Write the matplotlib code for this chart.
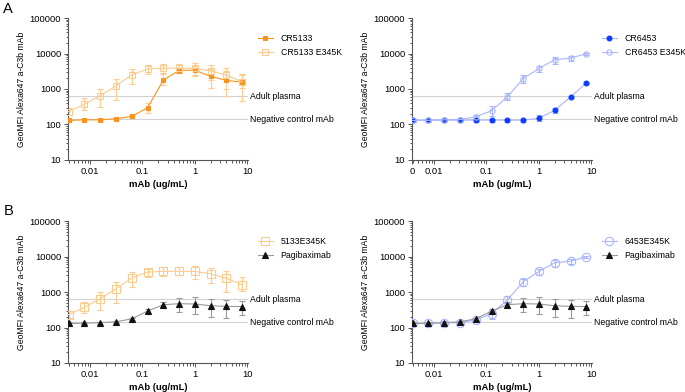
import matplotlib
matplotlib.use('Agg')
import matplotlib.pyplot as plt
import numpy as np
from matplotlib.ticker import LogLocator, NullFormatter, FixedLocator, FixedFormatter

plt.rcParams['font.family'] = ['Liberation Sans', 'DejaVu Sans']

# %% DATA
conc = [0.0039, 0.0078, 0.0156, 0.03125, 0.0625, 0.125, 0.25, 0.5, 1, 2, 4, 8]

cr5133 = [130, 135, 135, 145, 170, 295, 1800, 3300, 3400, 2250, 1750, 1550]
cr5133_lo = [120, 125, 125, 135, 155, 210, 1300, 2900, 2500, 1100, 650, 450]
cr5133_hi = [140, 145, 145, 155, 190, 400, 2600, 3800, 4500, 3600, 3200, 2400]

e5133 = [230, 370, 650, 1230, 2500, 3650, 3850, 3850, 3800, 3250, 2450, 1580]
e5133_lo = [180, 260, 310, 500, 1400, 2700, 2900, 3000, 2300, 1800, 1000, 1100]
e5133_hi = [300, 540, 1000, 1900, 3700, 4600, 5000, 5000, 5300, 4700, 3900, 2600]

cr6453 = [130, 130, 133, 132, 133, 133, 132, 132, 150, 250, 600, 1470]
cr6453_lo = [115, 115, 120, 120, 120, 120, 120, 120, 125, 210, 550, 1400]
cr6453_hi = [145, 145, 145, 145, 145, 145, 145, 145, 180, 290, 650, 1550]

e6453 = [130, 131, 135, 137, 165, 245, 600, 1950, 3800, 6700, 7400, 9900]
e6453_lo = [118, 118, 122, 125, 145, 170, 480, 1500, 3000, 5200, 6300, 9300]
e6453_hi = [142, 142, 148, 150, 190, 330, 750, 2400, 4500, 7800, 8500, 10500]

pagi = [130, 132, 137, 145, 176, 290, 440, 470, 460, 410, 395, 390]
pagi_lo = [120, 122, 127, 133, 165, 250, 380, 280, 240, 200, 190, 230]
pagi_hi = [140, 142, 147, 157, 187, 330, 510, 700, 720, 640, 600, 560]

adult_plasma = 620
neg_control = 140

ORANGE = '#F7941D'
LORANGE = '#FCCB8E'
BLUE = '#0A3CFF'
LBLUE = '#A9B6FF'
BLACK = '#111111'
GRAY = '#9A9A9A'

# %% HELPERS


def draw(ax, y, lo, hi, color, ecolor, marker, ms, filled, label, lcolor=None):
    y = np.array(y)
    yerr = [y - np.array(lo), np.array(hi) - y]
    ax.errorbar(conc, y, yerr=yerr, fmt='none', ecolor=ecolor,
                elinewidth=0.8, capsize=2, capthick=0.8, zorder=2)
    ax.plot(conc, y, color=lcolor or color, lw=0.8,
            marker=marker, ms=ms, mec=color,
            mfc=color if filled else 'none', mew=0.8, label=label, zorder=3)


def style(ax, zero=False):
    ax.set_xscale('log')
    ax.set_yscale('log')
    ax.set_xlim(0.0038, 10.3)
    ax.set_ylim(10, 100000)
    for s in ['top', 'right']:
        ax.spines[s].set_visible(False)
    for s in ['left', 'bottom']:
        ax.spines[s].set_color('#555555')
        ax.spines[s].set_linewidth(0.8)
    if zero:
        ax.xaxis.set_major_locator(FixedLocator([0.0038, 0.01, 0.1, 1, 10]))
        ax.xaxis.set_major_formatter(FixedFormatter(['0', '0.01', '0.1', '1', '10']))
    else:
        ax.xaxis.set_major_locator(FixedLocator([0.01, 0.1, 1, 10]))
        ax.xaxis.set_major_formatter(FixedFormatter(['0.01', '0.1', '1', '10']))
    ax.xaxis.set_minor_locator(LogLocator(base=10, subs=np.arange(2, 10)))
    ax.xaxis.set_minor_formatter(NullFormatter())
    ax.yaxis.set_major_locator(FixedLocator([10, 100, 1000, 10000, 100000]))
    ax.yaxis.set_major_formatter(FixedFormatter(['10', '100', '1000', '10000', '100000']))
    ax.yaxis.set_minor_locator(LogLocator(base=10, subs=np.arange(2, 10)))
    ax.yaxis.set_minor_formatter(NullFormatter())
    ax.tick_params(which='both', direction='out', color='#555555', labelsize=6.8,
                   width=0.7, pad=2)
    ax.tick_params(which='major', length=3)
    ax.tick_params(which='minor', length=1.8)
    ax.axhline(adult_plasma, color='#D2D2D2', lw=0.8, zorder=1)
    ax.axhline(neg_control, color='#D2D2D2', lw=0.8, zorder=1)
    ax.text(1.012, adult_plasma, 'Adult plasma', transform=ax.get_yaxis_transform(),
            va='center', ha='left', fontsize=6.3)
    ax.text(1.012, neg_control, 'Negative control mAb', transform=ax.get_yaxis_transform(),
            va='center', ha='left', fontsize=6.3)
    ax.set_xlabel('mAb (ug/mL)', fontsize=6.8, fontweight='bold', labelpad=3)
    ax.set_ylabel('GeoMFI Alexa647 a-C3b mAb', fontsize=6.2, labelpad=2.5)
    ax.legend(loc='upper left', bbox_to_anchor=(1.02, 0.93), frameon=False,
              fontsize=6.3, handlelength=1.7, handletextpad=0.9, labelspacing=0.6,
              borderaxespad=0.3)


# %% PLOT
fig = plt.figure(figsize=(6.85, 3.92), dpi=100)
ax1 = fig.add_axes([0.0993, 0.592, 0.2628, 0.362])
ax2 = fig.add_axes([0.6015, 0.592, 0.2628, 0.362])
ax3 = fig.add_axes([0.0993, 0.074, 0.2628, 0.362])
ax4 = fig.add_axes([0.6015, 0.074, 0.2628, 0.362])

draw(ax1, cr5133, cr5133_lo, cr5133_hi, ORANGE, LORANGE, 's', 3.5, True, 'CR5133')
draw(ax1, e5133, e5133_lo, e5133_hi, LORANGE, LORANGE, 's', 4, False, 'CR5133 E345K')
style(ax1)

draw(ax2, cr6453, cr6453_lo, cr6453_hi, BLUE, LBLUE, 'o', 3.5, True, 'CR6453', lcolor=LBLUE)
draw(ax2, e6453, e6453_lo, e6453_hi, LBLUE, LBLUE, 'o', 3.8, False, 'CR6453 E345K')
style(ax2, zero=True)

draw(ax3, e5133, e5133_lo, e5133_hi, LORANGE, LORANGE, 's', 6, False, '5133E345K')
draw(ax3, pagi, pagi_lo, pagi_hi, BLACK, GRAY, '^', 4, True, 'Pagibaximab', lcolor=GRAY)
style(ax3)

draw(ax4, e6453, e6453_lo, e6453_hi, LBLUE, LBLUE, 'o', 6, False, '6453E345K')
draw(ax4, pagi, pagi_lo, pagi_hi, BLACK, GRAY, '^', 4, True, 'Pagibaximab', lcolor=GRAY)
style(ax4)

fig.text(0.005, 0.978, 'A', fontsize=10.5, va='center', ha='left')
fig.text(0.005, 0.462, 'B', fontsize=10.5, va='center', ha='left')

fig.savefig('out.png', dpi=100)
